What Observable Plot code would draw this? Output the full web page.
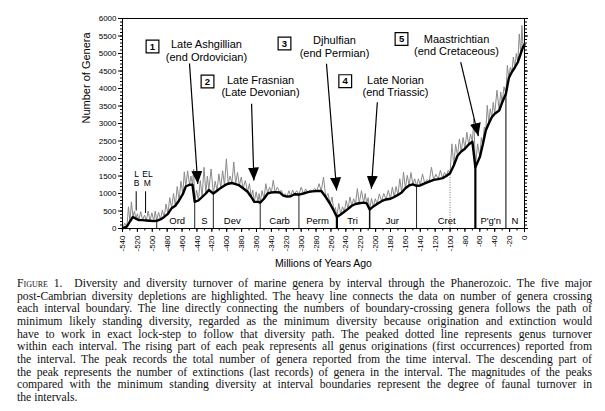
<!DOCTYPE html>
<html><head><meta charset="utf-8">
<script src="https://cdn.jsdelivr.net/npm/d3@7"></script>
<script src="https://cdn.jsdelivr.net/npm/@observablehq/plot@0.6"></script>
<style>
body{margin:0;background:#fff;}
#chart svg{display:block;}
#cap{font-family:"Liberation Serif","Times New Roman",serif;font-size:11.7px;line-height:12.65px;color:#111;margin:6px 0 0 17px;width:575px;}
#cap div{text-align:justify;text-align-last:justify;white-space:nowrap;}
#cap div.last{text-align-last:left;}
</style></head>
<body>
<div id="chart"></div>
<div id="cap">
<div><span style="font-variant:small-caps">Figure 1.</span>&ensp; Diversity and diversity turnover of marine genera by interval through the Phanerozoic. The five major</div>
<div>post-Cambrian diversity depletions are highlighted. The heavy line connects the data on number of genera crossing</div>
<div>each interval boundary. The line directly connecting the numbers of boundary-crossing genera follows the path of</div>
<div>minimum likely standing diversity, regarded as the minimum diversity because origination and extinction would</div>
<div>have to work in exact lock-step to follow that diversity path. The peaked dotted line represents genus turnover</div>
<div>within each interval. The rising part of each peak represents all genus originations (first occurrences) reported from</div>
<div>the interval. The peak records the total number of genera reported from the time interval. The descending part of</div>
<div>the peak represents the number of extinctions (last records) of genera in the interval. The magnitudes of the peaks</div>
<div>compared with the minimum standing diversity at interval boundaries represent the degree of faunal turnover in</div>
<div class="last">the intervals.</div>
</div>
<script>
// ---- data ----
const boundaryAge = [
-540,-534,-530,-526,-522,-518,-513,-508,-503,-498,-494,
-489,-484,-479,-474,-469,-464,-459,-455,-450,-446,-443,
-438,-433,-428,-424,-418,
-413,-408,-403,-398,-393,-388,-383,-378,-372,-367,-363,-358,-355,
-350,-345,-340,-335,-329,-324,-319,-314,-309,-303,
-297,-291,-285,-279,-273,-267,-261,-256,-252,
-247,-242,-237,-232,-227,-222,-216,-212,-208,
-203,-198,-192,-186,-180,-175,-170,-165,-160,-155,-150,-145,
-140,-134,-128,-122,-116,-110,-105,-100,-95,-90,-85,-80,-75,-70,-66,
-60,-56,-52,-48,-44,-40,-34,-30,-25,
-21,-17,-13,-9,-5,-2,0];
const boundaryDiv = [
0,60,200,330,280,240,240,230,220,210,220,
260,330,420,580,650,800,980,1200,1250,1250,760,
800,900,1000,1100,1000,
1080,1160,1230,1280,1300,1270,1230,1150,1050,900,760,760,740,
850,1000,1030,1040,1030,940,910,920,980,970,
1000,1040,1060,1070,1070,900,700,500,330,
400,480,560,650,700,720,740,720,540,
630,700,780,830,850,900,960,1030,1150,1230,1260,1220,
1230,1290,1340,1390,1410,1440,1500,1580,1800,2080,2200,2280,2400,2480,1750,
2040,2400,2800,3000,3180,3280,3370,3600,3850,
4300,4470,4600,4750,5000,5180,5250];
// total genera per interval (peak of turnover line)
const peakDiv = [
150,620,760,500,420,480,380,500,450,500,
460,520,700,880,1000,1200,1350,1620,1650,1500,1700,
1100,1370,1750,1500,1700,
1350,1560,1650,1990,1500,1900,1600,1470,1370,1280,1100,1050,1000,
1080,1280,1180,1380,1180,1100,1000,1080,1100,1080,
1180,1130,1100,1150,1280,1470,1000,900,600,
720,620,800,900,850,1140,1080,1000,880,
860,850,990,1000,1090,1180,1200,1420,1610,1520,1600,1420,
1420,1560,1400,1750,1550,1660,1600,1660,2420,2400,2560,2600,2750,2700,3130,
2420,2600,2900,3520,3420,3600,3950,3900,4050,
4660,4600,4900,5000,5560,5800,5300];
const periodBoundaryAge = [-494,-443,-418,-355,-303,-252,-208,-145,-100,-66,-25];
const periodLabel = ["Ord","S","Dev","Carb","Perm","Tri","Jur","Cret","P'g'n","N"];
const periodLabelAge = [-466.5,-430,-392.6,-329,-278,-231,-177.6,-104.5,-45.4,-12.7];
const eventNumber = ["1","2","3","4","5"];
const eventName = ["Late Ashgillian\n(end Ordovician)","Late Frasnian\n(Late Devonian)","Djhulfian\n(end Permian)","Late Norian\n(end Triassic)","Maastrichtian\n(end Cretaceous)"];
// annotation anchors in data units (age, genera)
const boxAge = [-499.7,-425.8,-322.4,-240.8,-165.2];
const boxVal = [5200,4200,5286,4210,5414];
const nameAge = [-427.2,-354.6,-255.2,-173.3,-91.3];
const nameVal = [5094,4077,5204,4077,5243];
const arrowFromAge = [-450,-366.6,-266,-197.7,-85.7];
const arrowFromVal = [4714,3563,4705,3609,4751];
const arrowToAge = [-438.9,-363.5,-252.4,-205.7,-62];
const arrowToVal = [1276,1371,1086,1134,2640];
const subLabel = ["L","B","EL","M"];
const subLabelAge = [-521.2,-521.2,-506.5,-506.8];
const subLabelVal = [1563,1294,1563,1294];
const subLineAge = [-521.6,-509];
const subLineTop = [1050,1050];
const subLineBottom = [500,430];
const yTicks = d3.range(0, 6001, 500);
const yMinor = d3.range(0, 6001, 100);
const xTicks = d3.range(-540, 1, 20);
const xMinor = d3.range(-540, 1, 10);

// ---- derived tables ----
const heavy = boundaryAge.map((a, i) => ({age: a, div: boundaryDiv[i]}));
const turnover = [];
for (let i = 0; i < peakDiv.length; i++) {
  turnover.push({age: boundaryAge[i], div: boundaryDiv[i]});
  turnover.push({age: (boundaryAge[i] + boundaryAge[i + 1]) / 2, div: peakDiv[i]});
}
turnover.push({age: boundaryAge[boundaryAge.length - 1], div: boundaryDiv[boundaryDiv.length - 1]});
const rules = periodBoundaryAge.map(a => ({age: a, top: boundaryDiv[boundaryAge.indexOf(a)]}));
const labels = periodLabel.map((t, i) => ({t, age: periodLabelAge[i], v: 229}));
const boxes = eventNumber.map((t, i) => ({t, age: boxAge[i], v: boxVal[i]}));
const names = eventName.map((t, i) => ({t, age: nameAge[i], v: nameVal[i]}));
const arrows = eventNumber.map((t, i) => ({x1: arrowFromAge[i], y1: arrowFromVal[i], x2: arrowToAge[i], y2: arrowToVal[i]}));
const subs = subLabel.map((t, i) => ({t, age: subLabelAge[i], v: subLabelVal[i]}));
const subLines = subLineAge.map((a, i) => ({age: a, y1: subLineBottom[i], y2: subLineTop[i]}));

const thin = [-494,-443,-418,-355,-303,-145];
const medium = [-208];
const thick = [-252,-66];

const svg = Plot.plot({
  width: 605, height: 272,
  marginLeft: 122, marginRight: 81, marginTop: 18, marginBottom: 44,
  style: {fontFamily: "'Liberation Sans', Arial, sans-serif", background: "white", color: "black"},
  x: {domain: [-540, 0], axis: null},
  y: {domain: [0, 6000], axis: null},
  marks: [
    Plot.ruleX(rules.filter(d => thin.includes(d.age)), {x: "age", y1: 0, y2: "top", stroke: "#222", strokeWidth: 1}),
    Plot.ruleX(rules.filter(d => medium.includes(d.age)), {x: "age", y1: 0, y2: "top", stroke: "#111", strokeWidth: 1.5}),
    Plot.ruleX(rules.filter(d => d.age === -25), {x: "age", y1: 0, y2: "top", stroke: "#555", strokeWidth: 1.5}),
    Plot.ruleX(rules.filter(d => d.age === -100), {x: "age", y1: 0, y2: "top", stroke: "#777", strokeWidth: 1, strokeDasharray: "1,1.5"}),
    Plot.ruleX(rules.filter(d => thick.includes(d.age)), {x: "age", y1: 0, y2: "top", stroke: "#000", strokeWidth: 2.2}),
    Plot.line(turnover, {x: "age", y: "div", stroke: "#8a8a8a", strokeWidth: 1}),
    Plot.line(heavy, {x: "age", y: "div", stroke: "#000", strokeWidth: 2.4, strokeLinejoin: "round"}),
    Plot.ruleX(subLines, {x: "age", y1: "y1", y2: "y2", stroke: "#000", strokeWidth: 1}),
    Plot.text(subs, {x: "age", y: "v", text: "t", fontSize: 8.5}),
    Plot.text(labels, {x: "age", y: "v", text: "t", fontSize: 9.5}),
    Plot.link(arrows, {x1: "x1", y1: "y1", x2: "x2", y2: "y2", stroke: "#000", strokeWidth: 1.2}),
    Plot.dot(boxes, {x: "age", y: "v", symbol: "square", r: 7.2, fill: "white", stroke: "#000", strokeWidth: 1.2}),
    Plot.text(boxes, {x: "age", y: "v", text: "t", fontSize: 9.5, fontWeight: "bold"}),
    Plot.text(names, {x: "age", y: "v", text: "t", fontSize: 11, lineHeight: 1.15}),
    Plot.frame({stroke: "#000", strokeWidth: 1}),
    Plot.axisY(yTicks, {tickSize: 4, tickPadding: 2, fontSize: 8, tickFormat: d => String(d), label: null}),
    Plot.axisY(yMinor, {tickSize: 2, text: null, label: null}),
    Plot.axisY(yTicks, {anchor: "right", tickSize: 3, text: null, label: null}),
    Plot.axisY(yMinor, {anchor: "right", tickSize: 2, text: null, label: null}),
    Plot.axisX(xTicks, {tickSize: 4, tickPadding: 3, tickRotate: -90, fontSize: 8, tickFormat: d => String(d), label: null}),
    Plot.axisX(xMinor, {tickSize: 2.5, text: null, label: null}),
    Plot.text(["Millions of Years Ago"], {frameAnchor: "bottom", dy: 38, fontSize: 10.5}),
    Plot.text(["Number of Genera"], {frameAnchor: "left", dx: -36, rotate: -90, fontSize: 11})
  ]
});

// filled arrowheads
const ns = "http://www.w3.org/2000/svg";
const defs = document.createElementNS(ns, "defs");
const marker = document.createElementNS(ns, "marker");
marker.setAttribute("id", "ahead");
marker.setAttribute("markerUnits", "userSpaceOnUse");
marker.setAttribute("viewBox", "0 0 13 11");
marker.setAttribute("refX", "13");
marker.setAttribute("refY", "5.5");
marker.setAttribute("markerWidth", "13");
marker.setAttribute("markerHeight", "11");
marker.setAttribute("orient", "auto");
const mp = document.createElementNS(ns, "path");
mp.setAttribute("d", "M0,0L13,5.5L0,11z");
mp.setAttribute("fill", "#000");
marker.appendChild(mp);
defs.appendChild(marker);
svg.insertBefore(defs, svg.firstChild);
svg.querySelectorAll('g[aria-label="link"] path').forEach(p => p.setAttribute("marker-end", "url(#ahead)"));

document.getElementById("chart").appendChild(svg);
</script>
</body></html>
